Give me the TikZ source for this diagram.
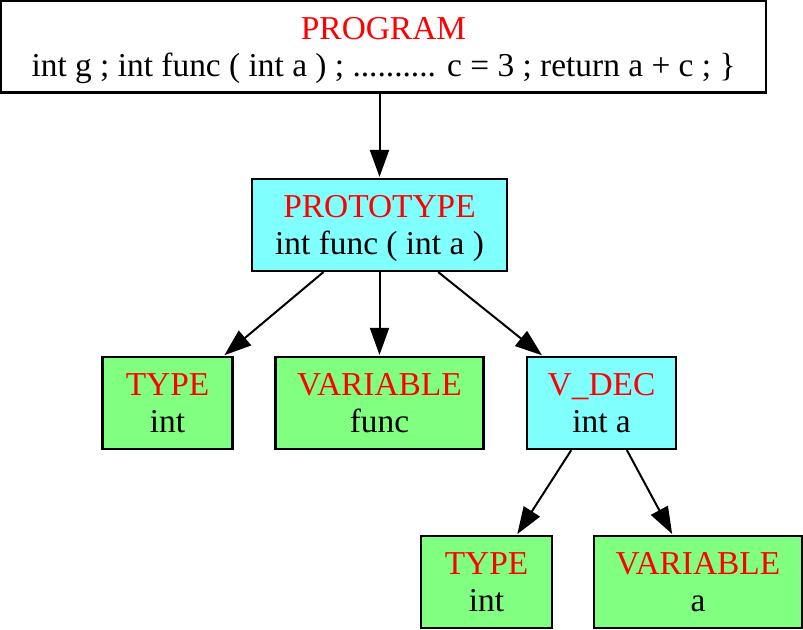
\documentclass[tikz,border=0pt]{standalone}
\usepackage{fontspec}
\setmainfont{Liberation Serif}
\usepackage{xcolor}
\usepackage{tikz}
\usetikzlibrary{arrows.meta}
\definecolor{boxcyan}{HTML}{80FFFF}
\definecolor{boxgreen}{HTML}{80FF80}
\begin{document}
\begin{tikzpicture}[x=0.5pt,y=-0.5pt,
  treebox/.style={draw,line width=1.1pt,align=center,inner sep=0pt,text depth=0pt,
    minimum height=46pt,font=\fontsize{16.7}{18.5}\selectfont},
  edge/.style={line width=1pt,-{Triangle[length=13.5pt,width=9.5pt]},shorten >=0.5pt}]
\useasboundingbox (0,0) rectangle (803,629);
\node[treebox,fill=white,minimum width=382.5pt] (program) at (383.5,46.5)
  {\textcolor{red}{PROGRAM}\\int g ; int func ( int a ) ; .......... c = 3 ; return a + c ; \}};
\node[treebox,fill=boxcyan,minimum width=127.5pt] (proto) at (379.5,225)
  {\textcolor{red}{PROTOTYPE}\\int func ( int a )};
\node[treebox,fill=boxgreen,minimum width=65pt] (type1) at (167.5,403)
  {\textcolor{red}{TYPE}\\int};
\node[treebox,fill=boxgreen,minimum width=104pt] (var1) at (379.5,403)
  {\textcolor{red}{VARIABLE}\\func};
\node[treebox,fill=boxcyan,minimum width=74.5pt] (vdec) at (601.5,403)
  {\textcolor{red}{V\_DEC}\\int a};
\node[treebox,fill=boxgreen,minimum width=65.5pt] (type2) at (486.5,582)
  {\textcolor{red}{TYPE}\\int};
\node[treebox,fill=boxgreen,minimum width=104pt] (var2) at (698,582)
  {\textcolor{red}{VARIABLE}\\a};
% edges
\draw[edge] (program.south -| proto) -- (proto);
\draw[edge] (proto) -- (type1);
\draw[edge] (proto) -- (var1);
\draw[edge] (proto) -- (vdec);
\draw[edge] (vdec) -- (type2);
\draw[edge] (vdec) -- (var2);
\end{tikzpicture}
\end{document}
